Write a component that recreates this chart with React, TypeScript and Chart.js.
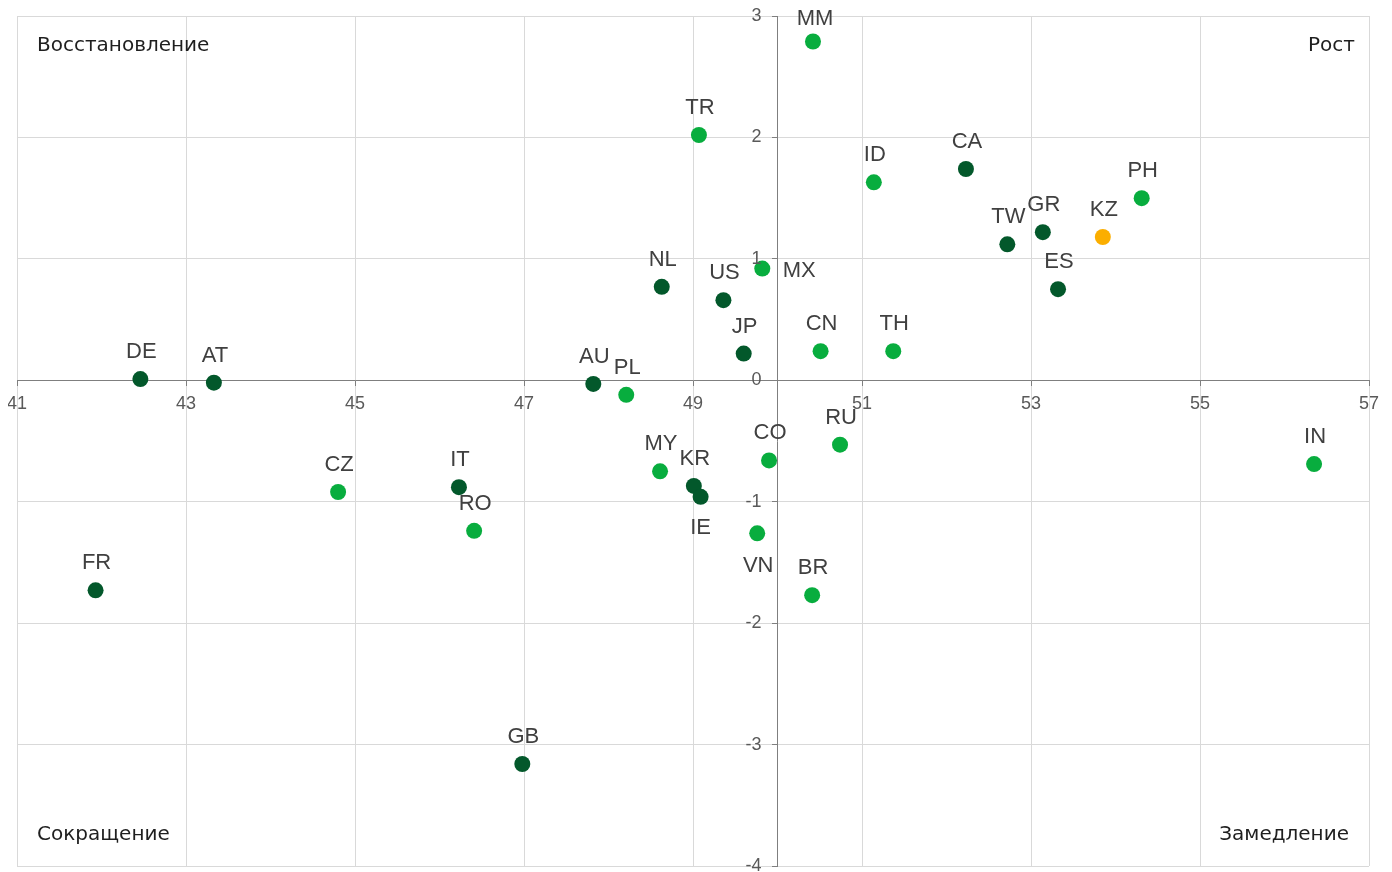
import React, { useEffect, useRef } from "react";
import { Chart, registerables } from "chart.js";

Chart.register(...registerables);

// Developed markers (dark green)
const darkLabels = ["DE", "AT", "IT", "FR", "GB", "AU", "NL", "US", "JP", "KR", "IE", "CA", "TW", "GR", "ES"];
const darkX = [42.46, 43.33, 46.23, 41.93, 46.98, 47.82, 48.63, 49.36, 49.6, 49.01, 49.09, 52.23, 52.72, 53.14, 53.32];
const darkY = [0.01, -0.02, -0.88, -1.73, -3.16, -0.03, 0.77, 0.66, 0.22, -0.87, -0.96, 1.74, 1.12, 1.22, 0.75];

// Emerging markers (light green)
const lightLabels = ["CZ", "RO", "PL", "MY", "MX", "CN", "TH", "CO", "RU", "VN", "BR", "TR", "MM", "ID", "PH", "IN"];
const lightX = [44.8, 46.41, 48.21, 48.61, 49.82, 50.51, 51.37, 49.9, 50.74, 49.76, 50.41, 49.07, 50.42, 51.14, 54.31, 56.35];
const lightY = [-0.92, -1.24, -0.12, -0.75, 0.92, 0.24, 0.24, -0.66, -0.53, -1.26, -1.77, 2.02, 2.79, 1.63, 1.5, -0.69];

// Kazakhstan (orange)
const kzLabels = ["KZ"];
const kzX = [53.85];
const kzY = [1.18];

// Axis settings
const xMin = 41;
const xMax = 57;
const xStep = 2;
const xCross = 50;
const yMin = -4;
const yMax = 3;
const yStep = 1;
const yCross = 0;

// Quadrant captions
const quadTopLeft = "Восстановление";
const quadTopRight = "Рост";
const quadBottomLeft = "Сокращение";
const quadBottomRight = "Замедление";

// Label placement (style only): default is centred above the point
const labelPlacement: Record<string, [number, number]> = {
  MX: [37, 2],
  IE: [0, 31],
  VN: [1, 33],
  MM: [2, -23],
};

const toPoints = (xs: number[], ys: number[]) => xs.map((x, i) => ({ x, y: ys[i] }));

const COLOR_DARK = "#03582B";
const COLOR_LIGHT = "#08AD3E";
const COLOR_ORANGE = "#FBAE00";
const TICK_FONT = '18px "Liberation Sans", Arial, sans-serif';
const LABEL_FONT = '22px "Liberation Sans", Arial, sans-serif';
const QUAD_FONT = '20px "DejaVu Sans", sans-serif';

export default function App() {
  const canvasRef = useRef<HTMLCanvasElement | null>(null);

  useEffect(() => {
    if (!canvasRef.current) return;

    const overlayPlugin = {
      id: "overlay",
      afterDatasetsDraw(chart: any) {
        const ctx = chart.ctx;
        ctx.save();
        ctx.font = LABEL_FONT;
        ctx.fillStyle = "#404040";
        ctx.textAlign = "center";
        ctx.textBaseline = "middle";
        chart.data.datasets.forEach((ds: any, di: number) => {
          const meta = chart.getDatasetMeta(di);
          meta.data.forEach((el: any, i: number) => {
            const name = ds.names[i];
            const off = labelPlacement[name] || [1, -27];
            ctx.fillText(name, el.x + off[0], el.y + off[1]);
          });
        });
        ctx.restore();
      },
      afterDraw(chart: any) {
        const ctx = chart.ctx;
        const a = chart.chartArea;
        const xs = chart.scales.x;
        const ys = chart.scales.y;
        const axisY = ys.getPixelForValue(yCross);
        const axisX = xs.getPixelForValue(xCross);
        ctx.save();
        // tick labels
        ctx.font = TICK_FONT;
        ctx.fillStyle = "#595959";
        ctx.textBaseline = "middle";
        ctx.textAlign = "center";
        xs.ticks.forEach((t: any) => {
          ctx.fillText(String(t.value), xs.getPixelForValue(t.value), axisY + 24);
        });
        ctx.textAlign = "right";
        ys.ticks.forEach((t: any) => {
          ctx.fillText(String(t.value), axisX - 16, ys.getPixelForValue(t.value));
        });
        // quadrant captions
        ctx.font = QUAD_FONT;
        ctx.fillStyle = "#1f1f1f";
        ctx.textAlign = "left";
        ctx.fillText(quadTopLeft, a.left + 20, a.top + 30);
        ctx.fillText(quadBottomLeft, a.left + 20, a.bottom - 31);
        ctx.textAlign = "right";
        ctx.fillText(quadTopRight, a.right - 14, a.top + 30);
        ctx.fillText(quadBottomRight, a.right - 20, a.bottom - 31);
        ctx.restore();
      },
    };

    const mkDataset = (label: string, names: string[], xs: number[], ys: number[], color: string) =>
      ({
        label,
        names,
        data: toPoints(xs, ys),
        backgroundColor: color,
        borderColor: color,
        pointRadius: 8,
        pointHoverRadius: 8,
        borderWidth: 0,
      } as any);

    const chart = new Chart(canvasRef.current, {
      type: "scatter",
      data: {
        datasets: [
          mkDataset("dark", darkLabels, darkX, darkY, COLOR_DARK),
          mkDataset("light", lightLabels, lightX, lightY, COLOR_LIGHT),
          mkDataset("kz", kzLabels, kzX, kzY, COLOR_ORANGE),
        ],
      },
      options: {
        animation: false,
        responsive: true,
        maintainAspectRatio: false,
        layout: { padding: { top: 7, left: 9, right: 15, bottom: 8 } },
        plugins: {
          legend: { display: false },
          tooltip: { enabled: false },
        },
        scales: {
          x: {
            type: "linear",
            min: xMin,
            max: xMax,
            position: { y: yCross } as any,
            ticks: { stepSize: xStep, display: false },
            grid: {
              color: "#d9d9d9",
              lineWidth: 1,
              tickColor: "#7f7f7f",
              tickLength: 5,
            },
            border: { color: "#7f7f7f", width: 1 },
          },
          y: {
            type: "linear",
            min: yMin,
            max: yMax,
            position: { x: xCross } as any,
            ticks: { stepSize: yStep, display: false },
            grid: {
              color: "#d9d9d9",
              lineWidth: 1,
              tickColor: "#7f7f7f",
              tickLength: 5,
            },
            border: { color: "#7f7f7f", width: 1 },
          },
        },
      } as any,
      plugins: [overlayPlugin],
    });

    return () => chart.destroy();
  }, []);

  return (
    <div style={{ position: "relative", width: "100%", height: "866px" }}>
      <canvas ref={canvasRef} />
    </div>
  );
}
